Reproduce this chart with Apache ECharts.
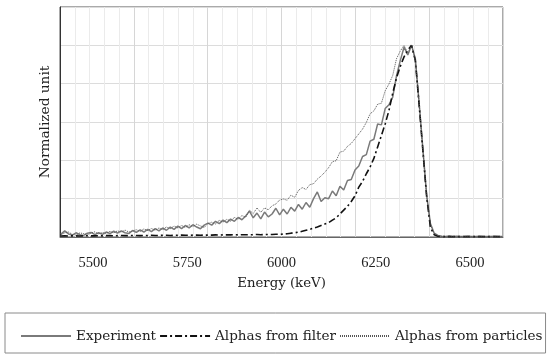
<!DOCTYPE html>
<html>
<head>
<meta charset="utf-8">
<script src="https://cdn.jsdelivr.net/npm/echarts@6/dist/echarts.min.js"></script>
<style>
html,body{margin:0;padding:0;background:#fff;}
#chart{width:550px;height:359px;}
</style>
</head>
<body>
<div id="chart"></div>
<script>
var energy = [5415,5425,5435,5445,5455,5465,5475,5485,5495,5505,
5515,5525,5535,5545,5555,5565,5575,5585,5595,5605,
5615,5625,5635,5645,5655,5665,5675,5685,5695,5705,
5715,5725,5735,5745,5755,5765,5775,5785,5795,5805,
5815,5825,5835,5845,5855,5865,5875,5885,5895,5905,
5915,5925,5935,5945,5955,5965,5975,5985,5995,6005,
6015,6025,6035,6045,6055,6065,6075,6085,6095,6105,
6115,6125,6135,6145,6155,6165,6175,6185,6195,6205,
6215,6225,6235,6245,6255,6265,6275,6285,6295,6305,
6315,6325,6335,6345,6355,6365,6375,6385,6395,6405,
6415,6425,6435,6445,6455,6465,6475,6485,6495,6505,
6515,6525,6535,6545,6555,6565,6575,6585];

var experiment = [0.015,0.032,0.016,0.01,0.022,0.012,0.008,0.02,0.024,0.012,
0.022,0.014,0.026,0.018,0.03,0.02,0.032,0.022,0.018,0.034,
0.024,0.037,0.026,0.04,0.028,0.044,0.032,0.047,0.035,0.052,
0.04,0.057,0.044,0.06,0.048,0.064,0.052,0.043,0.062,0.072,
0.062,0.082,0.07,0.088,0.075,0.093,0.082,0.102,0.09,0.11,
0.135,0.1,0.125,0.095,0.13,0.105,0.12,0.15,0.115,0.145,
0.12,0.155,0.135,0.17,0.145,0.18,0.155,0.2,0.235,0.185,
0.205,0.2,0.24,0.215,0.265,0.245,0.295,0.3,0.35,0.37,
0.42,0.43,0.5,0.51,0.59,0.585,0.67,0.69,0.73,0.84,
0.92,0.99,0.95,1.0,0.93,0.7,0.46,0.22,0.07,0.02,
0.008,0.004,0.003,0.005,0.002,0.004,0.003,0.002,0.004,0.003,
0.002,0.004,0.003,0.002,0.003,0.004,0.002,0.003];

var alphasFilter = [0.005,0.006,0.005,0.006,0.006,0.005,0.006,0.007,0.006,0.006,
0.007,0.006,0.007,0.007,0.006,0.007,0.008,0.007,0.007,0.008,
0.008,0.007,0.008,0.008,0.009,0.008,0.008,0.009,0.009,0.008,
0.009,0.009,0.01,0.009,0.009,0.01,0.01,0.009,0.01,0.01,
0.01,0.011,0.01,0.011,0.011,0.011,0.012,0.011,0.012,0.012,
0.012,0.012,0.013,0.012,0.013,0.013,0.013,0.014,0.014,0.015,
0.017,0.02,0.022,0.025,0.03,0.035,0.04,0.046,0.052,0.06,
0.068,0.075,0.088,0.1,0.12,0.14,0.16,0.185,0.215,0.26,
0.29,0.33,0.365,0.41,0.47,0.53,0.59,0.66,0.75,0.83,
0.89,0.94,0.975,1.0,0.92,0.69,0.45,0.21,0.05,0.012,
0.004,0.002,0.002,0.002,0.002,0.002,0.002,0.002,0.002,0.002,
0.002,0.002,0.002,0.002,0.002,0.002,0.002,0.002];

var alphasParticles = [0.01,0.022,0.026,0.014,0.01,0.021,0.018,0.011,0.021,0.027,
0.016,0.023,0.019,0.03,0.022,0.032,0.026,0.036,0.026,0.031,
0.038,0.029,0.042,0.034,0.044,0.036,0.047,0.039,0.052,0.043,
0.057,0.048,0.06,0.05,0.064,0.054,0.067,0.058,0.05,0.07,
0.077,0.068,0.087,0.078,0.092,0.083,0.102,0.093,0.112,0.103,
0.14,0.122,0.152,0.128,0.152,0.142,0.163,0.172,0.193,0.198,
0.192,0.218,0.207,0.243,0.258,0.248,0.273,0.278,0.302,0.318,
0.338,0.362,0.393,0.398,0.443,0.448,0.473,0.488,0.513,0.538,
0.563,0.598,0.643,0.658,0.693,0.698,0.763,0.798,0.843,0.93,
0.97,1.0,0.96,1.0,0.92,0.7,0.45,0.21,0.065,0.018,
0.006,0.003,0.002,0.003,0.002,0.003,0.002,0.002,0.003,0.002,
0.002,0.003,0.002,0.002,0.003,0.002,0.002,0.002];

var xTickLabels = [5500, 5750, 6000, 6250, 6500];
var seriesNames = ['Experiment', 'Alphas from filter', 'Alphas from particles'];

function pairs(vals) {
  return energy.map(function (e, i) { return [e, vals[i]]; });
}

var chart = echarts.init(document.getElementById('chart'), null, {renderer: 'canvas'});
chart.setOption({
  animation: false,
  backgroundColor: '#fff',
  grid: {left: 60, top: 7, right: 47, bottom: 122, show: true, borderColor: '#555', borderWidth: 1, backgroundColor: 'transparent'},
  legend: {
    data: seriesNames,
    left: 5, top: 313,
    orient: 'horizontal',
    itemWidth: 50, itemHeight: 14, itemGap: 3,
    padding: [16, 3, 10, 15],
    borderColor: '#8a8a8a', borderWidth: 1,
    itemStyle: {opacity: 0},
    textStyle: {fontFamily: 'DejaVu Serif', fontSize: 13.55, color: '#222'}
  },
  xAxis: [{
    type: 'value', min: 5412.5, max: 6587.5,
    name: 'Energy (keV)', nameLocation: 'middle', nameGap: 40,
    nameTextStyle: {fontFamily: 'DejaVu Serif', fontSize: 13.3, color: '#222'},
    axisLine: {show: true, lineStyle: {color: '#666', width: 1}},
    axisTick: {show: false},
    axisLabel: {customValues: xTickLabels, margin: 19, fontFamily: 'Liberation Serif', fontSize: 14.5, color: '#222',
      formatter: function (v) { return String(v); }},
    splitLine: {show: false}
  }, {
    type: 'value', min: 0, max: 6, interval: 1, position: 'bottom',
    axisLine: {show: false}, axisTick: {show: false}, axisLabel: {show: false},
    splitLine: {show: true, lineStyle: {color: '#d6d6d6', width: 1}},
    minorTick: {show: false, splitNumber: 5},
    minorSplitLine: {show: true, lineStyle: {color: '#ebebeb', width: 1}}
  }],
  yAxis: {
    type: 'value', min: 0, max: 1.2, interval: 0.2,
    name: 'Normalized unit', nameLocation: 'middle', nameGap: 8,
    nameTextStyle: {fontFamily: 'DejaVu Serif', fontSize: 13.7, color: '#222'},
    axisLine: {show: true, lineStyle: {color: '#333', width: 1}},
    axisTick: {show: false},
    axisLabel: {show: false},
    splitLine: {show: true, lineStyle: {color: '#dcdcdc', width: 1}}
  },
  series: [{
    name: seriesNames[0], type: 'line', xAxisIndex: 0, symbol: 'none',
    data: pairs(experiment),
    lineStyle: {color: '#7a7a7a', width: 1.5, type: 'solid'},
    itemStyle: {color: '#7a7a7a'}
  }, {
    name: seriesNames[1], type: 'line', xAxisIndex: 0, symbol: 'none',
    data: pairs(alphasFilter),
    lineStyle: {color: '#111', width: 1.6, type: [7, 3, 2, 3]},
    itemStyle: {color: '#111'}
  }, {
    name: seriesNames[2], type: 'line', xAxisIndex: 0, symbol: 'none',
    data: pairs(alphasParticles),
    lineStyle: {color: '#555', width: 1, type: [1, 1]},
    itemStyle: {color: '#555'}
  }]
});
</script>
</body>
</html>
